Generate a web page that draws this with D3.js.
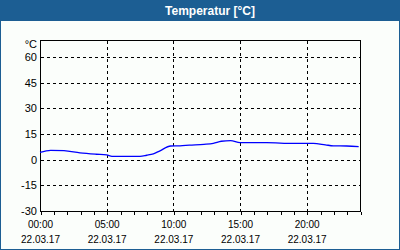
<!DOCTYPE html>
<html>
<head>
<meta charset="utf-8">
<title>Temperatur</title>
<style>
  body { margin: 0; background: #fff; }
  svg { display: block; }
</style>
</head>
<body>
<script src="https://cdn.jsdelivr.net/npm/d3@7"></script>
<script>
// Messwerte (Stunde des Tages, Temperatur in °C)
var hours = [0, 0.8, 1.8, 3, 4.2, 5, 5.4, 6.5, 7.5, 8, 8.5, 9, 9.8, 10.5, 11.2, 12.3, 13, 13.6, 14.3, 15, 17, 19, 20.5, 21.4, 22, 23, 23.9];
var temps = [4.3, 5.5, 5.3, 4.0, 3.2, 2.8, 2.0, 2.0, 2.0, 2.6, 3.4, 5.2, 8.0, 8.1, 8.5, 9.0, 9.6, 10.8, 11.2, 10.0, 10.0, 9.5, 9.5, 8.7, 8.1, 8.0, 7.7];

var yTicks = [-30, -15, 0, 15, 30, 45, 60];
var xTicks = [0, 5, 10, 15, 20];
var xTimeLabels = ["00:00", "05:00", "10:00", "15:00", "20:00"];
var xDateLabels = ["22.03.17", "22.03.17", "22.03.17", "22.03.17", "22.03.17"];
var title = "Temperatur [°C]";
var unit = "°C";

var W = 400, H = 250;
var blue = "#1c5e93";
var plot = {left: 40, top: 40, right: 360, bottom: 211};

var svg = d3.select("body").append("svg")
    .attr("width", W)
    .attr("height", H)
    .style("font-family", "'Liberation Sans', Arial, sans-serif");

// Rahmen + Titelleiste
svg.append("rect").attr("x", 0).attr("y", 0).attr("width", W).attr("height", H).attr("fill", blue);
svg.append("rect").attr("x", 1).attr("y", 21).attr("width", W - 2).attr("height", H - 22).attr("fill", "#fbfefb");
svg.append("text")
    .attr("x", 210).attr("y", 15)
    .attr("text-anchor", "middle")
    .attr("fill", "white")
    .attr("font-size", "12px")
    .attr("font-weight", "bold")
    .text(title);

var x = d3.scaleLinear().domain([0, 24]).range([plot.left, plot.right]);
var y = d3.scaleLinear().domain([-30, 70]).range([plot.bottom, plot.top]);

var g = svg.append("g").attr("shape-rendering", "crispEdges");

// Gitter
g.selectAll(".hgrid")
    .data(yTicks.filter(function(d){ return d > -30; }))
    .enter().append("line")
    .attr("x1", plot.left + 1).attr("x2", plot.right)
    .attr("y1", function(d){ return Math.round(y(d)) + 0.5; })
    .attr("y2", function(d){ return Math.round(y(d)) + 0.5; })
    .attr("stroke", "#000").attr("stroke-dasharray", "3,3");

g.selectAll(".vgrid")
    .data(xTicks.filter(function(d){ return d > 0; }))
    .enter().append("line")
    .attr("x1", function(d){ return Math.round(x(d)) + 0.5; })
    .attr("x2", function(d){ return Math.round(x(d)) + 0.5; })
    .attr("y1", plot.top + 1).attr("y2", plot.bottom)
    .attr("stroke", "#000").attr("stroke-dasharray", "3,3");

// Achse unten mit Stundenstrichen
var xAxis = d3.axisBottom(x)
    .tickValues(d3.range(0, 25))
    .tickSize(3)
    .tickFormat("");
svg.append("g")
    .attr("transform", "translate(0.5," + (plot.bottom + 0.5) + ")")
    .call(xAxis)
    .call(function(a){ a.select(".domain").remove(); })
    .selectAll("line").attr("stroke", "#000").attr("shape-rendering", "crispEdges");

// Plotrahmen
g.append("rect")
    .attr("x", plot.left + 0.5).attr("y", plot.top + 0.5)
    .attr("width", plot.right - plot.left).attr("height", plot.bottom - plot.top)
    .attr("fill", "none").attr("stroke", "#000");

// Y-Beschriftung
svg.selectAll(".ylab")
    .data(yTicks)
    .enter().append("text")
    .attr("x", 37)
    .attr("y", function(d){ return y(d) + 4; })
    .attr("text-anchor", "end")
    .attr("font-size", "11px")
    .attr("fill", "#000")
    .text(function(d){ return d; });

svg.append("text")
    .attr("x", 37).attr("y", 48)
    .attr("text-anchor", "end")
    .attr("font-size", "11px")
    .text(unit);

// X-Beschriftung
svg.selectAll(".xlab")
    .data(xTicks)
    .enter().append("text")
    .attr("x", function(d){ return x(d) + 0.5; })
    .attr("y", 228)
    .attr("text-anchor", "middle")
    .attr("font-size", "10px")
    .text(function(d, i){ return xTimeLabels[i]; });

svg.selectAll(".xdate")
    .data(xTicks)
    .enter().append("text")
    .attr("x", function(d){ return x(d) + 0.5; })
    .attr("y", 243)
    .attr("text-anchor", "middle")
    .attr("font-size", "10px")
    .text(function(d, i){ return xDateLabels[i]; });

// Temperaturkurve
var line = d3.line()
    .x(function(d){ return x(d[0]); })
    .y(function(d){ return y(d[1]); })
    .curve(d3.curveMonotoneX);

svg.append("path")
    .datum(d3.zip(hours, temps))
    .attr("d", line)
    .attr("fill", "none")
    .attr("stroke", "#0000ff")
    .attr("stroke-width", 1.3);
</script>
</body>
</html>
